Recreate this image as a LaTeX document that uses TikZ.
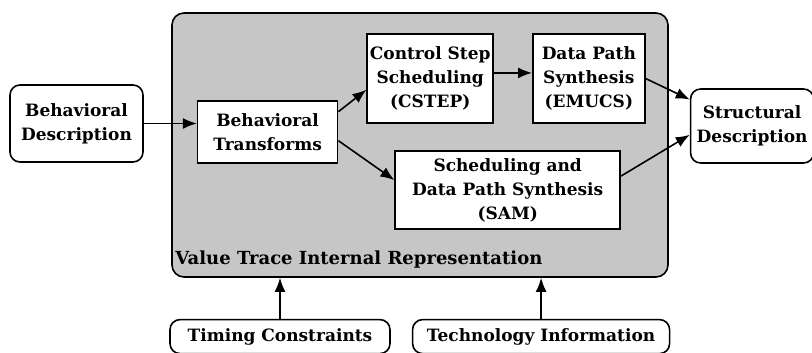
\documentclass[tikz,border=0pt]{standalone}
\usepackage{fontspec}
\setmainfont{DejaVu Serif}
\usetikzlibrary{positioning, arrows.meta}

\begin{document}
\begin{tikzpicture}[x=1pt, y=1pt, >={Latex[length=14pt,width=11pt]},
    every node/.style={font=\fontsize{17}{24}\selectfont\bfseries},
    block/.style={draw, rectangle, align=center, fill=white, line width=1.6pt, inner sep=1pt},
    port/.style={block, rounded corners=10pt},
    flow/.style={->, line width=1.6pt}]
        \useasboundingbox (0,0) rectangle (812,-353);

        % Shaded internal representation
        \node (VT) [draw, rectangle, rounded corners=12pt, line width=1.6pt, fill=gray!45, minimum width=496pt, minimum height=264pt] at (420,-145) {};
        \node (VTlabel) [anchor=base west, inner sep=0pt, font=\fontsize{18}{24}\selectfont\bfseries] at ([shift={(4pt,13pt)}]VT.south west) {Value Trace Internal Representation};

        % Input
        \node (BD) [port, minimum width=133pt, minimum height=77pt] at (76.5,-123.5) {Behavioral\\Description};

        % Synthesis steps
        \node (BT) [block, right=53pt of BD, yshift=-8.5pt, minimum width=140pt, minimum height=62pt] {Behavioral\\Transforms};
        \node (CSTEP) [block, right=28pt of BT, yshift=53.5pt, minimum width=126pt, minimum height=89pt] {Control Step\\Scheduling\\(CSTEP)};
        \node (EMUCS) [block, right=38pt of CSTEP, minimum width=112pt, minimum height=89pt] {Data Path\\Synthesis\\(EMUCS)};
        \node (SAM) [block, right=56pt of BT, yshift=-58pt, minimum width=225pt, minimum height=78pt] {Scheduling and\\Data Path Synthesis\\(SAM)};

        % Output
        \node (SD) [port, right=21pt of VT, yshift=19pt, minimum width=123pt, minimum height=74pt] {Structural\\Description};

        % Constraints
        \node (TC) [port, below=41pt of VT, xshift=-140pt, minimum width=220pt, minimum height=34pt] {Timing Constraints};
        \node (TI) [port, right=21pt of TC, minimum width=257pt, minimum height=34pt] {Technology Information};

        % Arrows
        \draw[flow] (BD.east) -- (BD.east -| BT.west);
        \draw[flow] (BT.16) -- (CSTEP.190);
        \draw[flow] (BT.353) -- (SAM.175);
        \draw[flow] (CSTEP.5) -- (CSTEP.5 -| EMUCS.west);
        \draw[flow] (EMUCS.east) -- (SD.157);
        \draw[flow] (SAM.7) -- (SD.188);
        \draw[flow] (TC.north) -- (TC.north |- VT.south);
        \draw[flow] (TI.north) -- (TI.north |- VT.south);
    \end{tikzpicture}
\end{document}
